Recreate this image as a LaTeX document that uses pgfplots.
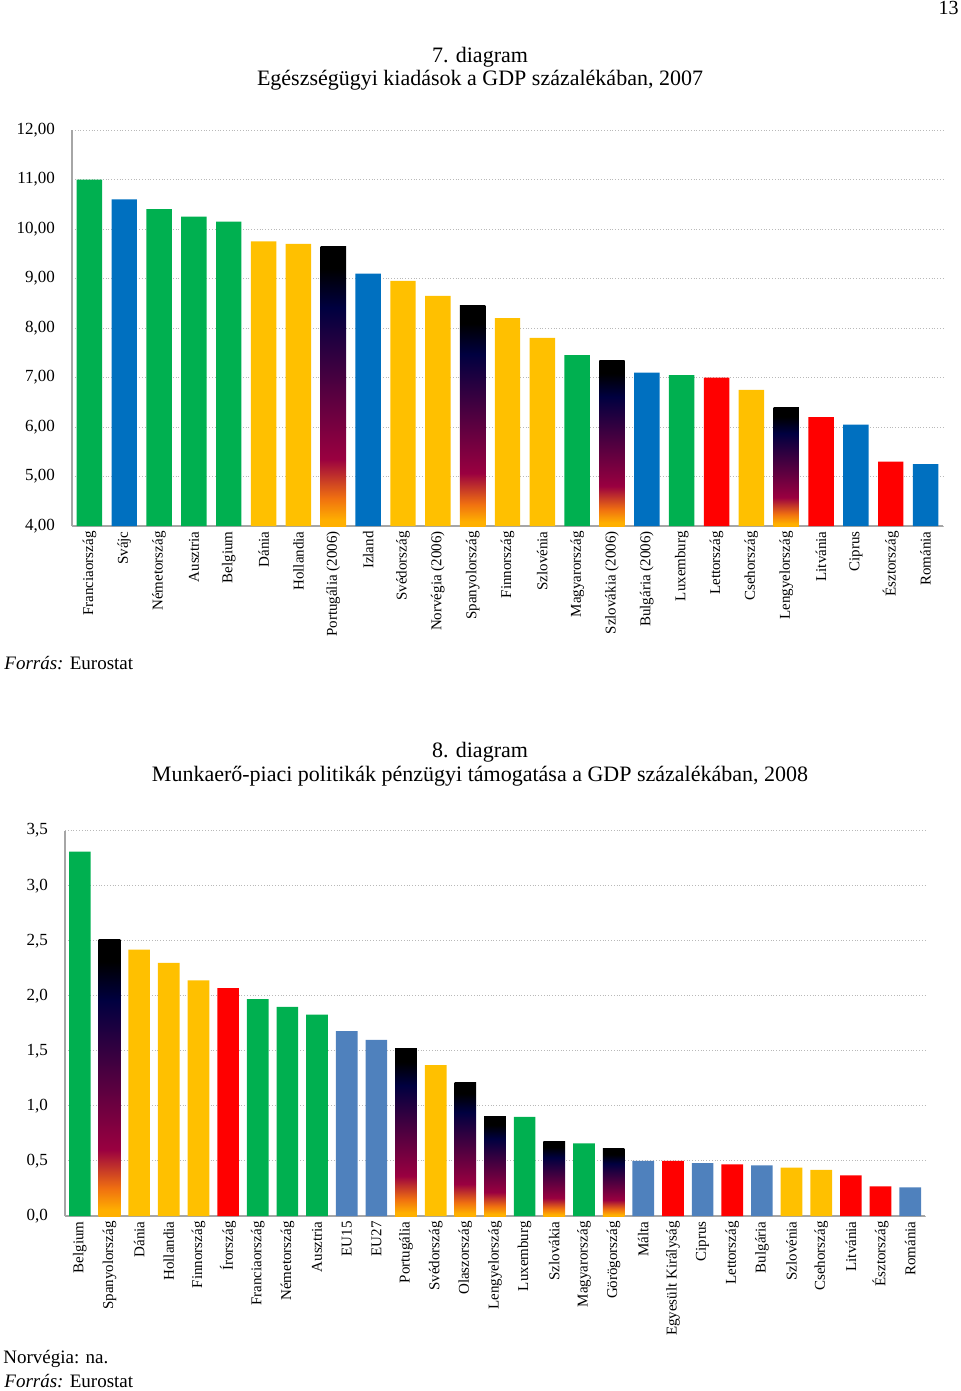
\documentclass[border=0pt]{standalone}
\usepackage{fontspec}
\setmainfont{Liberation Serif}
\usepackage{pgfplots}
\pgfplotsset{compat=1.18}
\definecolor{cgreen}{HTML}{00B050}
\definecolor{cblue}{HTML}{0070C0}
\definecolor{clblue}{HTML}{4F81BD}
\definecolor{cyellow}{HTML}{FFC000}
\definecolor{cred}{HTML}{FF0000}
\definecolor{fy}{HTML}{FFB000}
\definecolor{fo}{HTML}{F07010}
\definecolor{fr}{HTML}{9A0040}
\definecolor{fp}{HTML}{4A0040}
\definecolor{fn}{HTML}{000040}
\pgfdeclareverticalshading{flag}{100bp}{color(0bp)=(fy); color(26bp)=(fy); color(30bp)=(fo); color(37bp)=(fr); color(51bp)=(fp); color(64bp)=(fn); color(71bp)=(black); color(100bp)=(black)}
\pgfplotsset{
  mybar/.style={ybar, bar shift=0pt, bar width=0.73, draw=none},
  flagbar/.style={ybar, bar shift=0pt, bar width=0.73, draw=none, shading=flag},
  mychart/.style={
    scale only axis, anchor=south west,
    axis lines*=left,
    axis line style={gray!70, line width=0.6pt},
    ymajorgrids, grid style={gray!55, densely dotted, line width=0.5pt},
    major tick length=0pt, tick style={draw=none},
    xtick={0,...,40},
    xticklabel style={rotate=90, anchor=east, inner sep=2.5pt, font=\fontsize{7.5}{8}\selectfont},
    yticklabel style={font=\fontsize{8.5}{9}\selectfont, xshift=-5pt},
    clip=false,
  },
}
\begin{document}
\begin{tikzpicture}
\path[use as bounding box] (0,0) rectangle (480pt,-695.5pt);
\node[anchor=north east, inner sep=0pt, font=\fontsize{10}{11}\selectfont] at (479.5pt,-0.5pt) {13};
\node[font=\fontsize{11}{13}\selectfont] at (240pt,-28.5pt) {7. diagram};
\node[font=\fontsize{11}{13}\selectfont] at (240pt,-40pt) {Egészségügyi kiadások a GDP százalékában, 2007};
\node[anchor=west, inner sep=0pt, font=\fontsize{9.5}{11}\selectfont] at (2pt,-331.5pt) {\textit{Forrás:} Eurostat};

\begin{axis}[mychart,
  at={(36pt,-263pt)}, width=435.5pt, height=198pt,
  xmin=-0.5, xmax=24.5, ymin=0, ymax=8,
  y filter/.expression={y-4},
  ytick={0,...,8},
  yticklabels={{4,00},{5,00},{6,00},{7,00},{8,00},{9,00},{10,00},{11,00},{12,00}},
  xticklabels={Franciaország,Svájc,Németország,Ausztria,Belgium,Dánia,Hollandia,Portugália (2006),Izland,Svédország,Norvégia (2006),Spanyolország,Finnország,Szlovénia,Magyarország,Szlovákia (2006),Bulgária (2006),Luxemburg,Lettország,Csehország,Lengyelország,Litvánia,Ciprus,Észtország,Románia},
]
\addplot[mybar, fill=cgreen] coordinates {(0,11.00) (2,10.40) (3,10.25) (4,10.15) (14,7.45) (17,7.05)};
\addplot[mybar, fill=cblue] coordinates {(1,10.60) (8,9.10) (16,7.10) (22,6.05) (24,5.25)};
\addplot[mybar, fill=cyellow] coordinates {(5,9.75) (6,9.70) (9,8.95) (10,8.65) (12,8.20) (13,7.80) (19,6.75)};
\addplot[mybar, fill=cred] coordinates {(18,7.00) (21,6.20) (23,5.30)};
\addplot[flagbar] coordinates {(7,9.65)};
\addplot[flagbar] coordinates {(11,8.45)};
\addplot[flagbar] coordinates {(15,7.35)};
\addplot[flagbar] coordinates {(20,6.40)};
\end{axis}

\node[font=\fontsize{11}{13}\selectfont] at (240pt,-376pt) {8. diagram};
\node[font=\fontsize{11}{13}\selectfont] at (240pt,-388pt) {Munkaerő-piaci politikák pénzügyi támogatása a GDP százalékában, 2008};
\node[anchor=west, inner sep=0pt, font=\fontsize{9.5}{11}\selectfont] at (1.5pt,-679.5pt) {Norvégia: na.};
\node[anchor=west, inner sep=0pt, font=\fontsize{9.5}{11}\selectfont] at (2pt,-690.5pt) {\textit{Forrás:} Eurostat};

\begin{axis}[mychart,
  at={(32.5pt,-608pt)}, width=430pt, height=192.7pt,
  xmin=-0.5, xmax=28.5, ymin=0, ymax=3.5,
  ytick={0,0.5,1,1.5,2,2.5,3,3.5},
  yticklabels={{0,0},{0,5},{1,0},{1,5},{2,0},{2,5},{3,0},{3,5}},
  xticklabels={Belgium,Spanyolország,Dánia,Hollandia,Finnország,Írország,Franciaország,Németország,Ausztria,EU15,EU27,Portugália,Svédország,Olaszország,Lengyelország,Luxemburg,Szlovákia,Magyarország,Görögország,Málta,Egyesült Királyság,Ciprus,Lettország,Bulgária,Szlovénia,Csehország,Litvánia,Észtország,Románia},
]
\addplot[mybar, fill=cgreen] coordinates {(0,3.31) (6,1.97) (7,1.90) (8,1.83) (15,0.90) (17,0.66)};
\addplot[mybar, fill=clblue] coordinates {(9,1.68) (10,1.60) (19,0.50) (21,0.48) (23,0.46) (28,0.26)};
\addplot[mybar, fill=cyellow] coordinates {(2,2.42) (3,2.30) (4,2.14) (12,1.37) (24,0.44) (25,0.42)};
\addplot[mybar, fill=cred] coordinates {(5,2.07) (20,0.50) (22,0.47) (26,0.37) (27,0.27)};
\addplot[flagbar] coordinates {(1,2.51)};
\addplot[flagbar] coordinates {(11,1.52)};
\addplot[flagbar] coordinates {(13,1.21)};
\addplot[flagbar] coordinates {(14,0.90)};
\addplot[flagbar] coordinates {(16,0.68)};
\addplot[flagbar] coordinates {(18,0.61)};
\end{axis}
\end{tikzpicture}
\end{document}
